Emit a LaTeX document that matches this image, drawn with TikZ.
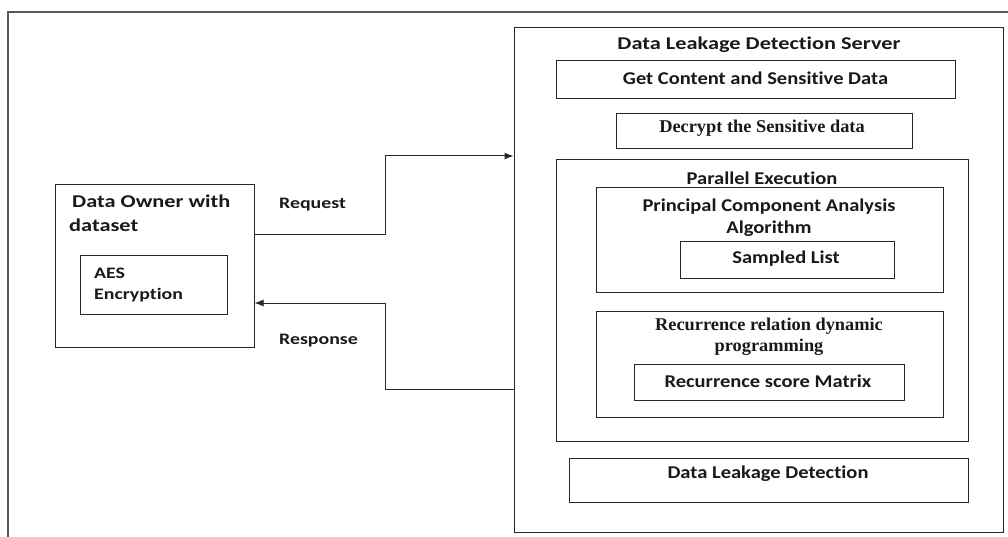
\documentclass[tikz,border=0pt]{standalone}
\usepackage{fontspec}
\setmainfont[Ligatures=CommonOff]{Carlito}
\newfontfamily\sA[FakeStretch=1.14,Ligatures=CommonOff]{Carlito}
\newfontfamily\sB[FakeStretch=1.24,Ligatures=CommonOff]{Carlito}
\newfontfamily\tnr[FakeStretch=1.02]{Liberation Serif}
\usetikzlibrary{arrows.meta}
\begin{document}
\begin{tikzpicture}[x=1pt,y=-1pt,
  box/.style={draw=black!85,line width=1pt,inner sep=0pt},
  lbl/.style={font=\fontsize{18}{22}\selectfont\sA\bfseries,inner sep=0pt,text=black!90},
  wide/.style={font=\fontsize{18}{22}\selectfont\sB\bfseries,inner sep=0pt,text=black!90},
  small/.style={font=\fontsize{16}{22}\selectfont\sB\bfseries,inner sep=0pt,text=black!90},
  serif/.style={font=\fontsize{18}{21}\selectfont\tnr\bfseries,inner sep=0pt,text=black!90},
  arr/.style={draw=black!85,line width=1pt,-{Latex[length=9pt,width=7pt]}}]
\useasboundingbox (0,0) rectangle (1008,537);
\draw[black!65,line width=1.2pt] (1008,12) -- (8,12) -- (8,537);
% server
\node[box,minimum width=489pt,minimum height=504pt] (server) at (758.5,280) {};
\node[wide] (servert) at (759,45) {Data Leakage Detection Server};
\node[box,minimum width=399pt,minimum height=38pt] (get) at (755.5,80) {};
\node[lbl] (gett) at (755.5,78) {Get Content and Sensitive Data};
\node[box,minimum width=296pt,minimum height=35pt] (dec) at (764,131.5) {};
\node[serif] (dect) at (762,128) {Decrypt the Sensitive data};
\node[box,minimum width=412pt,minimum height=281pt] (par) at (762,300.5) {};
\node[lbl] (part) at (762,178) {Parallel Execution};
\node[box,minimum width=347pt,minimum height=104pt] (pca) at (769.5,240) {};
\node[lbl,align=center] (pcat) at (769,218) {Principal Component Analysis\\Algorithm};
\node[box,minimum width=214pt,minimum height=37pt] (samp) at (787,259.5) {};
\node[lbl] (sampt) at (786,258.5) {Sampled List};
\node[box,minimum width=347pt,minimum height=106pt] (rec) at (769.5,364) {};
\node[serif,align=center] (rect) at (769,336.5) {Recurrence relation dynamic\\programming};
\node[box,minimum width=270pt,minimum height=36pt] (rsm) at (769,382) {};
\node[lbl] (rsmt) at (768,381) {Recurrence score Matrix};
\node[box,minimum width=399pt,minimum height=44pt] (dld) at (768.5,480) {};
\node[lbl] (dldt) at (768,474) {Data Leakage Detection};
% owner
\node[box,minimum width=199pt,minimum height=162pt] (own) at (154.5,266) {};
\node[wide,anchor=west] (ownt1) at (72,201) {Data Owner with};
\node[wide,anchor=west] (ownt2) at (69,225) {dataset};
\node[box,minimum width=147pt,minimum height=59pt] (aes) at (153.5,284.5) {};
\node[small,anchor=west] (aest1) at (94,273) {AES};
\node[small,anchor=west] (aest2) at (94,295) {Encryption};
% arrows
\coordinate (r1) at (385,235);
\coordinate (r2) at (385,156);
\draw[arr] (own.east |- r1) -- (r1) -- (r2) -- (server.west |- r2);
\coordinate (s1) at (385,389);
\coordinate (s2) at (385,303);
\draw[arr] (server.west |- s1) -- (s1) -- (s2) -- (own.east |- s2);
\node[small,anchor=west] (req) at (279,205) {Request};
\node[small,anchor=west] (resp) at (279,341) {Response};
\end{tikzpicture}
\end{document}
